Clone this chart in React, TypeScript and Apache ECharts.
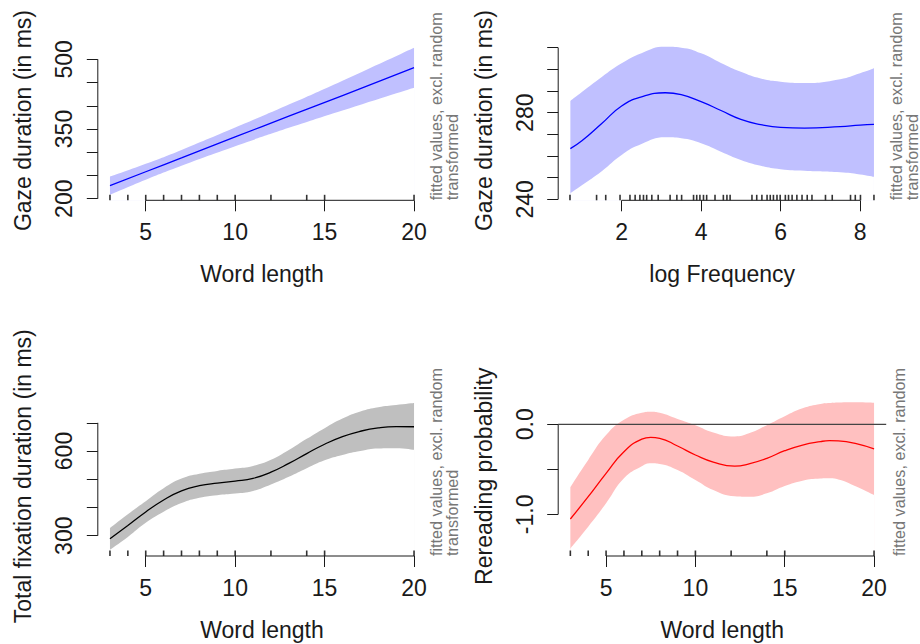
import React, { useEffect, useRef } from "react";
import * as echarts from "echarts";

// ---------- Data ----------
// Panel A: gaze duration ~ word length
const wordLengthA = [3, 5, 7, 10, 13, 16, 20];
const gazeFitA = [228, 258, 288, 333, 377.5, 422, 482];
const gazeUpperA = [247.5, 275, 305, 353, 402.5, 454, 525];
const gazeLowerA = [208.5, 241, 271, 313, 352.5, 390, 439];

// Panel B: gaze duration ~ log frequency
const logFreq = [0.71, 1, 1.5, 2, 2.5, 3.1, 3.5, 4, 4.5, 5, 5.5, 6, 6.6, 7.5, 8, 8.35];
const gazeFitB = [263.4, 267, 275, 283.1, 287.3, 289.2, 288.3, 285.1, 281, 276.9, 274.5, 273.2, 272.9, 273.6, 274.3, 274.6];
const gazeUpperB = [285.4, 289.5, 296.5, 302.8, 307.5, 310.4, 310, 307.4, 303, 298.9, 295.8, 294.3, 293.7, 295.5, 298.2, 300.5];
const gazeLowerB = [242.8, 246.5, 253, 260.5, 265.5, 268.6, 268.2, 265.9, 262, 258.2, 255.5, 253.9, 253.2, 252.5, 251.5, 250.4];

// Panel C: total fixation duration ~ word length
const wordLengthC = [3, 4, 5, 6, 7, 8, 9, 10, 11, 12, 13, 14, 15, 16, 17, 18, 19, 20];
const totalFit = [289, 336, 384, 426.5, 459, 477, 486.5, 493.5, 503, 525, 556, 591, 624, 651, 670, 682, 686.5, 686];
const totalUpper = [327.3, 376.2, 422.3, 467.9, 502.2, 519.5, 529.6, 537.7, 547.3, 568.7, 603.3, 643, 681, 715, 740, 755, 763, 770];
const totalLower = [250.7, 295.8, 345.7, 385.1, 415.8, 434.5, 443.4, 449.3, 458.7, 481.3, 508.7, 539, 567, 586, 600, 609, 610, 604];

// Panel D: rereading probability ~ word length
const wordLengthD = [3, 4, 5, 6, 7, 7.5, 8, 9, 10, 11, 12.2, 13, 14, 15, 16, 17, 17.5, 18, 19, 20];
const rereadFit = [-1.052, -0.804, -0.544, -0.304, -0.165, -0.145, -0.155, -0.241, -0.341, -0.42, -0.465, -0.44, -0.378, -0.293, -0.23, -0.192, -0.182, -0.185, -0.215, -0.274];
const rereadUpper = [-0.7, -0.396, -0.12, 0.05, 0.128, 0.14, 0.128, 0.06, -0.01, -0.09, -0.135, -0.1, -0.01, 0.09, 0.178, 0.226, 0.236, 0.242, 0.245, 0.24];
const rereadLower = [-1.378, -1.137, -0.878, -0.6, -0.466, -0.433, -0.441, -0.508, -0.619, -0.73, -0.8, -0.805, -0.767, -0.686, -0.626, -0.603, -0.6, -0.612, -0.69, -0.785];

// Rug values
const wordLengthRug = [3, 4, 5, 6, 7, 8, 9, 10, 12, 14, 15, 20];
const logFreqRug = [0.7, 1.37, 1.6, 1.96, 2.21, 2.34, 2.46, 2.55, 2.63, 2.76, 2.92, 3.22, 3.39, 3.51, 3.81, 3.89, 3.97, 4.06, 4.14, 4.35, 4.56, 4.65, 4.73, 5.28, 5.4, 5.53, 5.66, 5.74, 5.82, 5.91, 5.99, 6.12, 6.2, 6.29, 6.41, 6.54, 6.67, 6.79, 7.13, 7.3, 7.76, 7.88, 8.01, 8.35];

// Ticks and labels
const wordLengthTicks = [5, 10, 15, 20];
const logFreqTicks = [2, 4, 6, 8];
const gazeTicksA = [200, 250, 300, 350, 400, 450, 500];
const gazeLabelsA = [200, 350, 500];
const gazeTicksB = [240, 250, 260, 270, 280, 290, 300, 310];
const gazeLabelsB = [240, 280];
const totalTicks = [300, 400, 500, 600, 700];
const totalLabels = [300, 600];
const rereadTicks = [-1, -0.5, 0];
const rereadLabels = [-1, 0];

const sideNote1 = "fitted values, excl. random";
const sideNote2 = "transformed";

// ---------- Layout / style ----------
const FONT = '"Liberation Sans", Arial, Helvetica, sans-serif';
const INK = "#1a1a1a";
const SMOOTH = 0.5;

type Panel = {
  xs: number[]; fit: number[]; up: number[]; lo: number[]; rug: number[];
  xMin: number; xMax: number; yMin: number; yMax: number;
  xTicks: number[]; yTicks: number[]; yLabels: number[];
  xName: string; yName: string; lineColor: string; bandColor: string;
  left: number; top: number; width: number; height: number;
  yFmt: (v: number) => string; hline?: number;
};

const panels: Panel[] = [
  {
    xs: wordLengthA, fit: gazeFitA, up: gazeUpperA, lo: gazeLowerA, rug: wordLengthRug,
    xMin: 2.32, xMax: 20.68, yMin: 196.6, yMax: 539.8,
    xTicks: wordLengthTicks, yTicks: gazeTicksA, yLabels: gazeLabelsA,
    xName: "Word length", yName: "Gaze duration (in ms)", lineColor: "#0000ff", bandColor: "#c0c0ff",
    left: 97.8, top: 40.8, width: 328.4, height: 159.5, yFmt: (v) => String(v),
  },
  {
    xs: logFreq, fit: gazeFitB, up: gazeUpperB, lo: gazeLowerB, rug: logFreqRug,
    xMin: 0.404, xMax: 8.658, yMin: 239.54, yMax: 313.2,
    xTicks: logFreqTicks, yTicks: gazeTicksB, yLabels: gazeLabelsB,
    xName: "log Frequency", yName: "Gaze duration (in ms)", lineColor: "#0000ff", bandColor: "#c0c0ff",
    left: 558.2, top: 40.8, width: 328, height: 159.5, yFmt: (v) => String(v),
  },
  {
    xs: wordLengthC, fit: totalFit, up: totalUpper, lo: totalLower, rug: wordLengthRug,
    xMin: 2.32, xMax: 20.68, yMin: 228.1, yMax: 793.1,
    xTicks: wordLengthTicks, yTicks: totalTicks, yLabels: totalLabels,
    xName: "Word length", yName: "Total fixation duration (in ms)", lineColor: "#000000", bandColor: "#bfbfbf",
    left: 97.8, top: 396.5, width: 328.4, height: 159.5, yFmt: (v) => String(v),
  },
  {
    xs: wordLengthD, fit: rereadFit, up: rereadUpper, lo: rereadLower, rug: wordLengthRug,
    xMin: 2.32, xMax: 20.68, yMin: -1.463, yMax: 0.309,
    xTicks: wordLengthTicks, yTicks: rereadTicks, yLabels: rereadLabels,
    xName: "Word length", yName: "Rereading probability", lineColor: "#ff0000", bandColor: "#ffc0c0",
    left: 558.2, top: 396.5, width: 328, height: 159.5, yFmt: (v) => v.toFixed(1), hline: 0,
  },
];

const zip = (xs: number[], ys: number[]) => xs.map((x, i) => [x, ys[i]]);

function buildOption() {
  const grid: any[] = [];
  const xAxis: any[] = [];
  const yAxis: any[] = [];
  const series: any[] = [];
  const graphic: any[] = [];

  panels.forEach((p, i) => {
    grid.push({ left: p.left, top: p.top, width: p.width, height: p.height, containLabel: false, outerBoundsMode: "none" });
    xAxis.push({
      gridIndex: i, type: "value", min: p.xMin, max: p.xMax,
      axisLine: { show: false, onZero: false },
      axisTick: { show: true, inside: false, length: 11, customValues: p.xTicks, lineStyle: { color: INK, width: 1 } },
      axisLabel: { show: true, customValues: p.xTicks, margin: 20, fontSize: 23, fontFamily: FONT, color: INK },
      splitLine: { show: false },
      name: p.xName, nameLocation: "middle", nameGap: 62,
      nameTextStyle: { fontSize: 23, fontFamily: FONT, color: INK },
    });
    yAxis.push({
      gridIndex: i, type: "value", min: p.yMin, max: p.yMax,
      axisLine: { show: false, onZero: false },
      axisTick: { show: true, inside: false, length: 11, customValues: p.yTicks, lineStyle: { color: INK, width: 1 } },
      axisLabel: { show: true, customValues: p.yLabels, rotate: 90, margin: 22, fontSize: 23, fontFamily: FONT, color: INK, formatter: p.yFmt },
      splitLine: { show: false },
      name: p.yName, nameLocation: "middle", nameGap: 63, nameRotate: 90,
      nameTextStyle: { fontSize: 23, fontFamily: FONT, color: INK },
    });

    const common = { xAxisIndex: i, yAxisIndex: i, silent: true, symbol: "none" };
    series.push({
      ...common, type: "line", data: zip(p.xs, p.up), smooth: SMOOTH,
      lineStyle: { width: 0, opacity: 0 }, areaStyle: { color: p.bandColor, opacity: 1, origin: "start" }, z: 1,
    });
    series.push({
      ...common, type: "line", data: zip(p.xs, p.lo), smooth: SMOOTH,
      lineStyle: { width: 0, opacity: 0 }, areaStyle: { color: "#ffffff", opacity: 1, origin: "start" }, z: 2,
    });
    if (p.hline !== undefined) {
      series.push({
        ...common, type: "line", data: [[p.xMin, p.hline], [p.xMax, p.hline]], clip: false,
        lineStyle: { color: "#444444", width: 1.2 }, z: 4,
      });
    }
    series.push({
      ...common, type: "line", data: zip(p.xs, p.fit), smooth: SMOOTH,
      lineStyle: { color: p.lineColor, width: 1.3 }, z: 5,
    });
    series.push({
      xAxisIndex: i, yAxisIndex: i, silent: true, type: "scatter", clip: false,
      data: p.rug.map((x) => [x, p.yMin]), symbol: "rect", symbolSize: [1.6, 5.5], symbolOffset: [0, -2.75],
      itemStyle: { color: "#000000" }, z: 6,
    });
    series.push({
      ...common, type: "line", clip: false,
      data: [[p.xTicks[0], p.yMin], [p.xTicks[p.xTicks.length - 1], p.yMin]],
      lineStyle: { color: INK, width: 1 }, z: 7,
    });
    series.push({
      ...common, type: "line", clip: false,
      data: [[p.xMin, p.yTicks[0]], [p.xMin, p.yTicks[p.yTicks.length - 1]]],
      lineStyle: { color: INK, width: 1 }, z: 7,
    });
  });

  const note = (x: number, y: number, text: string) => ({
    type: "text", x, y, rotation: Math.PI / 2, silent: true,
    style: { text, fill: "#777777", font: `16.2px ${FONT}`, textAlign: "left", textVerticalAlign: "middle" },
  });
  graphic.push(note(435.5, 200.3, sideNote1), note(452, 200.3, sideNote2));
  graphic.push(note(895.5, 200.3, sideNote1), note(911.5, 200.3, sideNote2));
  graphic.push(note(435.5, 556, sideNote1), note(452, 556, sideNote2));
  graphic.push(note(898.5, 556, sideNote1));

  return {
    animation: false,
    backgroundColor: "#ffffff",
    tooltip: { show: false },
    grid, xAxis, yAxis, series, graphic,
  };
}

export default function App() {
  const ref = useRef<HTMLDivElement>(null);
  useEffect(() => {
    document.body.style.margin = "0";
    document.body.style.overflow = "hidden";
    if (!ref.current) return;
    const chart = echarts.init(ref.current, null, { renderer: "svg" });
    chart.setOption(buildOption() as any);
    return () => chart.dispose();
  }, []);
  return <div ref={ref} style={{ width: 920, height: 644, background: "#fff" }} />;
}
